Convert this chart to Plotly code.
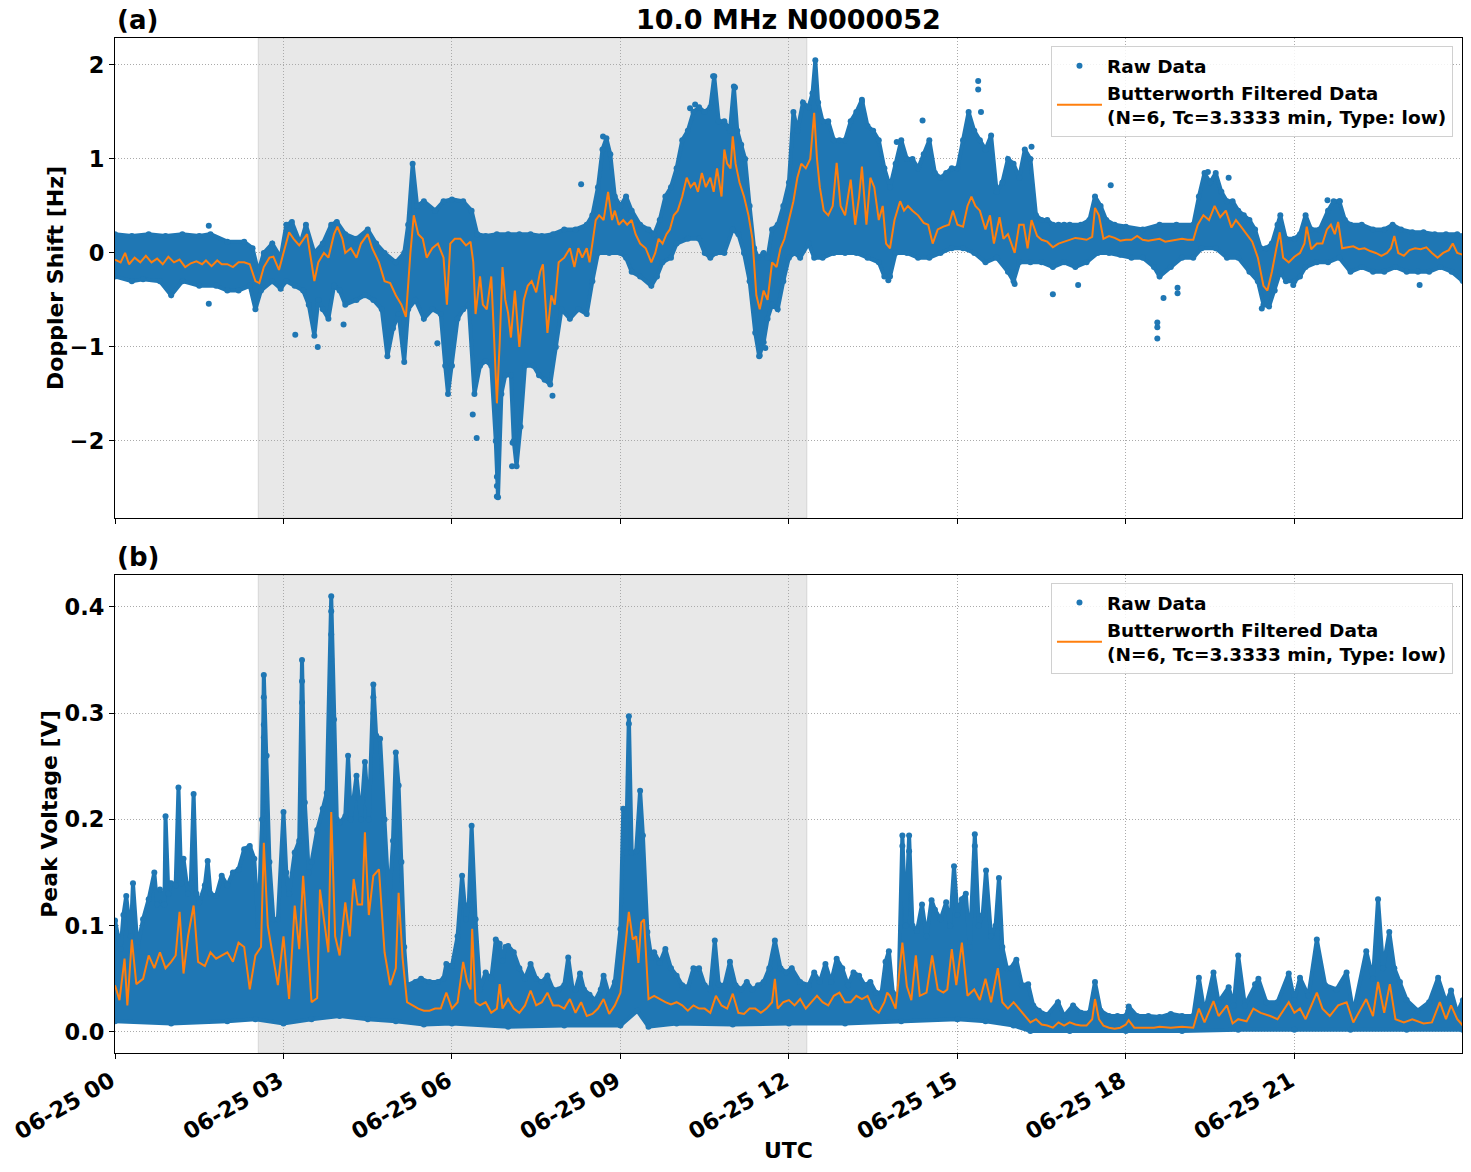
import pandas as pd
import plotly.graph_objects as go

DAY = pd.Timestamp("2024-06-25")
TITLE = "10.0 MHz N0000052"
SHADE_START_H, SHADE_END_H = 2.55, 12.32

# ---------------- Panel (a): Doppler shift [Hz]  (hour, value) ----------------
DOP_FILT = [
    (0.0, -0.07), (0.1, -0.1), (0.18, 0.0), (0.25, -0.12), (0.35, -0.05), (0.45, -0.1), (0.55, -0.03),
    (0.65, -0.1), (0.75, -0.06), (0.85, -0.12), (0.95, -0.04), (1.05, -0.1), (1.15, -0.07), (1.25, -0.15),
    (1.35, -0.11), (1.45, -0.09), (1.55, -0.12), (1.62, -0.08), (1.72, -0.14), (1.82, -0.08), (1.9, -0.12),
    (2.0, -0.12), (2.1, -0.15), (2.2, -0.1), (2.3, -0.1), (2.4, -0.12), (2.5, -0.3), (2.57, -0.32),
    (2.65, -0.15), (2.75, -0.05), (2.82, -0.04), (2.92, -0.18), (3.0, 0.0), (3.1, 0.22), (3.18, 0.15),
    (3.28, 0.08), (3.42, 0.2), (3.55, -0.3), (3.62, -0.1), (3.72, 0.0), (3.8, -0.05), (3.9, 0.2),
    (3.96, 0.28), (4.05, 0.15), (4.1, 0.0), (4.2, 0.05), (4.3, -0.05), (4.38, 0.1), (4.5, 0.2),
    (4.58, 0.05), (4.7, -0.1), (4.8, -0.3), (4.9, -0.32), (5.0, -0.45), (5.1, -0.55), (5.18, -0.68),
    (5.26, 0.0), (5.32, 0.4), (5.4, 0.2), (5.48, 0.15), (5.55, -0.05), (5.65, 0.05), (5.75, 0.1),
    (5.85, -0.05), (5.91, -0.55), (5.97, 0.1), (6.05, 0.15), (6.15, 0.15), (6.25, 0.08), (6.33, 0.12),
    (6.38, -0.1), (6.42, -0.65), (6.5, -0.25), (6.55, -0.55), (6.62, -0.6), (6.7, -0.25), (6.75, -0.9),
    (6.8, -1.6), (6.85, -0.95), (6.9, -0.15), (6.95, -0.5), (7.0, -0.64), (7.05, -0.9), (7.12, -0.4),
    (7.2, -1.0), (7.28, -0.5), (7.35, -0.35), (7.42, -0.3), (7.5, -0.42), (7.57, -0.2), (7.62, -0.12),
    (7.7, -0.85), (7.77, -0.45), (7.83, -0.55), (7.9, -0.1), (8.0, -0.05), (8.1, 0.05), (8.18, -0.15),
    (8.25, 0.05), (8.32, -0.05), (8.4, 0.05), (8.45, -0.1), (8.5, 0.1), (8.56, 0.35), (8.62, 0.4),
    (8.7, 0.35), (8.78, 0.65), (8.85, 0.35), (8.9, 0.45), (8.97, 0.3), (9.05, 0.35), (9.12, 0.3),
    (9.2, 0.35), (9.27, 0.2), (9.35, 0.1), (9.45, 0.05), (9.55, -0.1), (9.62, 0.0), (9.68, 0.15),
    (9.75, 0.1), (9.82, 0.2), (9.88, 0.25), (9.95, 0.4), (10.02, 0.45), (10.1, 0.6), (10.18, 0.8),
    (10.25, 0.7), (10.32, 0.75), (10.38, 0.65), (10.45, 0.85), (10.52, 0.7), (10.6, 0.8), (10.66, 0.65),
    (10.72, 0.9), (10.8, 0.6), (10.85, 1.1), (10.9, 0.95), (10.96, 0.9), (11.0, 1.24), (11.05, 0.95),
    (11.12, 0.75), (11.2, 0.6), (11.28, 0.4), (11.35, 0.15), (11.42, -0.45), (11.48, -0.6), (11.55, -0.4),
    (11.62, -0.5), (11.7, -0.1), (11.78, -0.15), (11.85, 0.05), (11.92, 0.15), (12.0, 0.35), (12.08, 0.55),
    (12.15, 0.8), (12.22, 0.95), (12.3, 0.9), (12.38, 1.0), (12.45, 1.49), (12.5, 1.0), (12.55, 0.7),
    (12.62, 0.45), (12.7, 0.4), (12.78, 0.5), (12.85, 0.96), (12.92, 0.5), (13.0, 0.4), (13.1, 0.78),
    (13.18, 0.3), (13.25, 0.6), (13.3, 0.92), (13.38, 0.3), (13.45, 0.8), (13.52, 0.7), (13.6, 0.35),
    (13.67, 0.5), (13.73, 0.1), (13.8, 0.05), (13.88, 0.35), (13.98, 0.55), (14.05, 0.45), (14.12, 0.5),
    (14.2, 0.45), (14.3, 0.4), (14.4, 0.32), (14.48, 0.3), (14.56, 0.1), (14.65, 0.25), (14.75, 0.28),
    (14.85, 0.3), (14.92, 0.45), (15.0, 0.3), (15.1, 0.28), (15.18, 0.5), (15.25, 0.6), (15.32, 0.5),
    (15.4, 0.45), (15.5, 0.25), (15.58, 0.4), (15.65, 0.1), (15.75, 0.38), (15.82, 0.15), (15.9, 0.2),
    (16.02, 0.0), (16.1, 0.3), (16.18, 0.3), (16.25, 0.05), (16.32, 0.35), (16.42, 0.18), (16.5, 0.14),
    (16.6, 0.12), (16.7, 0.06), (16.8, 0.1), (16.9, 0.12), (17.0, 0.14), (17.1, 0.16), (17.2, 0.15),
    (17.3, 0.14), (17.4, 0.17), (17.45, 0.48), (17.52, 0.4), (17.6, 0.15), (17.7, 0.18), (17.8, 0.16),
    (17.9, 0.13), (18.0, 0.14), (18.1, 0.14), (18.2, 0.18), (18.3, 0.14), (18.4, 0.13), (18.5, 0.14),
    (18.6, 0.15), (18.7, 0.12), (18.8, 0.13), (18.9, 0.14), (19.0, 0.15), (19.1, 0.14), (19.2, 0.14),
    (19.28, 0.3), (19.38, 0.4), (19.48, 0.35), (19.58, 0.5), (19.68, 0.38), (19.78, 0.45), (19.88, 0.27),
    (19.96, 0.35), (20.05, 0.28), (20.15, 0.2), (20.25, 0.12), (20.35, -0.05), (20.45, -0.35), (20.52, -0.4),
    (20.6, -0.2), (20.68, 0.05), (20.74, 0.22), (20.8, -0.05), (20.9, -0.1), (21.0, -0.04), (21.1, 0.0),
    (21.18, 0.1), (21.22, 0.28), (21.3, 0.04), (21.4, 0.1), (21.5, 0.1), (21.58, 0.25), (21.65, 0.3),
    (21.72, 0.2), (21.78, 0.33), (21.85, 0.05), (21.95, 0.06), (22.05, 0.07), (22.15, 0.04), (22.25, 0.05),
    (22.35, 0.02), (22.45, 0.0), (22.55, -0.03), (22.65, 0.0), (22.72, 0.05), (22.78, 0.18), (22.85, 0.0),
    (22.95, -0.03), (23.05, 0.03), (23.15, 0.05), (23.25, 0.04), (23.35, 0.06), (23.45, 0.0), (23.55, -0.05),
    (23.65, 0.0), (23.75, 0.03), (23.82, 0.1), (23.9, 0.0), (24.0, -0.02),
]

DOP_RAW_HIGH = [
    (0.0, 0.2), (0.3, 0.18), (0.6, 0.2), (0.9, 0.18), (1.2, 0.2), (1.5, 0.18), (1.7, 0.2), (2.0, 0.12),
    (2.3, 0.12), (2.45, 0.05), (2.55, -0.2), (2.65, 0.0), (2.8, 0.1), (2.95, -0.05), (3.05, 0.3),
    (3.15, 0.33), (3.3, 0.1), (3.4, 0.3), (3.55, 0.0), (3.7, 0.1), (3.85, 0.3), (3.95, 0.33), (4.1, 0.2),
    (4.3, 0.15), (4.5, 0.25), (4.65, 0.1), (4.8, 0.0), (5.0, -0.1), (5.15, 0.0), (5.22, 0.3), (5.3, 0.95),
    (5.38, 0.5), (5.5, 0.55), (5.7, 0.45), (5.85, 0.55), (6.0, 0.57), (6.2, 0.55), (6.35, 0.45),
    (6.45, 0.2), (6.6, 0.18), (6.8, 0.2), (7.0, 0.2), (7.2, 0.2), (7.4, 0.2), (7.6, 0.18), (7.8, 0.2),
    (8.0, 0.25), (8.2, 0.25), (8.4, 0.3), (8.5, 0.4), (8.6, 0.7), (8.68, 1.1), (8.75, 1.22), (8.82, 1.05),
    (8.9, 0.6), (9.0, 0.5), (9.1, 0.6), (9.2, 0.45), (9.35, 0.3), (9.5, 0.25), (9.6, 0.2), (9.7, 0.35),
    (9.8, 0.6), (9.9, 0.7), (10.0, 0.9), (10.1, 1.2), (10.2, 1.3), (10.3, 1.5), (10.4, 1.55), (10.5, 1.5),
    (10.6, 1.55), (10.67, 1.88), (10.75, 1.4), (10.85, 1.4), (10.95, 1.3), (11.02, 1.77), (11.08, 1.3),
    (11.15, 1.15), (11.22, 1.0), (11.3, 0.5), (11.38, 0.05), (11.45, -0.05), (11.55, 0.0), (11.62, -0.05),
    (11.7, 0.25), (11.8, 0.3), (11.9, 0.5), (12.0, 0.75), (12.08, 1.5), (12.15, 1.3), (12.25, 1.6),
    (12.35, 1.55), (12.42, 1.7), (12.47, 2.05), (12.52, 1.6), (12.6, 1.4), (12.7, 1.4), (12.8, 1.2),
    (12.9, 1.2), (13.0, 1.2), (13.1, 1.4), (13.2, 1.5), (13.3, 1.63), (13.4, 1.35), (13.5, 1.3),
    (13.6, 1.2), (13.7, 0.9), (13.8, 0.7), (13.9, 0.95), (14.0, 1.2), (14.1, 1.0), (14.2, 1.0),
    (14.3, 0.9), (14.4, 1.05), (14.5, 1.2), (14.6, 0.85), (14.7, 0.8), (14.8, 0.85), (14.9, 0.9),
    (15.0, 0.9), (15.1, 1.2), (15.2, 1.5), (15.3, 1.3), (15.4, 1.2), (15.5, 1.1), (15.6, 1.25),
    (15.7, 0.65), (15.8, 0.75), (15.9, 1.0), (16.0, 0.95), (16.1, 0.8), (16.2, 1.1), (16.3, 1.0),
    (16.4, 0.4), (16.5, 0.35), (16.6, 0.35), (16.7, 0.3), (16.8, 0.3), (16.9, 0.3), (17.0, 0.3),
    (17.2, 0.3), (17.35, 0.35), (17.45, 0.6), (17.55, 0.5), (17.65, 0.35), (17.8, 0.3), (18.0, 0.28),
    (18.3, 0.25), (18.6, 0.3), (18.9, 0.3), (19.2, 0.3), (19.3, 0.6), (19.4, 0.85), (19.5, 0.75),
    (19.6, 0.85), (19.7, 0.65), (19.8, 0.55), (19.9, 0.55), (20.0, 0.45), (20.1, 0.4), (20.2, 0.35),
    (20.3, 0.25), (20.4, 0.05), (20.5, 0.05), (20.6, 0.1), (20.7, 0.3), (20.75, 0.4), (20.85, 0.15),
    (21.0, 0.15), (21.1, 0.2), (21.2, 0.4), (21.3, 0.25), (21.45, 0.25), (21.6, 0.45), (21.7, 0.55),
    (21.8, 0.55), (21.9, 0.35), (22.0, 0.3), (22.2, 0.3), (22.4, 0.25), (22.6, 0.25), (22.75, 0.3),
    (22.9, 0.25), (23.1, 0.22), (23.3, 0.22), (23.5, 0.2), (23.7, 0.2), (23.9, 0.2), (24.0, 0.18),
]

DOP_RAW_LOW = [
    (0.0, -0.25), (0.3, -0.3), (0.5, -0.28), (0.8, -0.3), (1.0, -0.45), (1.2, -0.3), (1.5, -0.35),
    (1.8, -0.35), (2.0, -0.4), (2.2, -0.4), (2.4, -0.35), (2.5, -0.6), (2.6, -0.4), (2.8, -0.3),
    (2.95, -0.38), (3.05, -0.3), (3.2, -0.35), (3.35, -0.4), (3.45, -0.55), (3.55, -0.88), (3.62, -0.5),
    (3.7, -0.6), (3.8, -0.7), (3.9, -0.35), (4.0, -0.4), (4.1, -0.55), (4.3, -0.5), (4.45, -0.45),
    (4.6, -0.5), (4.75, -0.6), (4.85, -1.1), (4.95, -0.8), (5.05, -0.65), (5.15, -1.16), (5.22, -0.6),
    (5.35, -0.5), (5.5, -0.7), (5.65, -0.6), (5.8, -0.65), (5.88, -1.2), (5.93, -1.5), (6.0, -1.2),
    (6.1, -0.7), (6.2, -0.6), (6.3, -0.55), (6.4, -1.5), (6.5, -1.2), (6.6, -1.15), (6.7, -1.2),
    (6.78, -2.0), (6.82, -2.6), (6.88, -1.5), (6.95, -1.3), (7.05, -1.3), (7.1, -2.0), (7.15, -2.27),
    (7.22, -1.85), (7.3, -1.2), (7.45, -1.2), (7.55, -1.3), (7.65, -1.35), (7.75, -1.4), (7.85, -1.0),
    (7.95, -0.6), (8.1, -0.7), (8.25, -0.6), (8.4, -0.65), (8.5, -0.3), (8.6, 0.0), (8.8, 0.0),
    (9.0, 0.0), (9.1, -0.05), (9.2, -0.2), (9.35, -0.25), (9.55, -0.35), (9.65, -0.25), (9.75, -0.1),
    (9.9, -0.05), (10.0, 0.1), (10.2, 0.15), (10.4, 0.15), (10.5, 0.0), (10.6, -0.05), (10.7, 0.0),
    (10.85, 0.0), (11.0, 0.25), (11.1, 0.2), (11.2, 0.0), (11.3, -0.3), (11.4, -0.85), (11.47, -1.1),
    (11.55, -0.95), (11.62, -0.7), (11.7, -0.55), (11.8, -0.6), (11.9, -0.3), (12.0, -0.05), (12.1, 0.0),
    (12.2, -0.05), (12.35, 0.1), (12.45, -0.05), (12.6, -0.05), (12.8, 0.0), (13.0, 0.0), (13.2, 0.0),
    (13.4, -0.05), (13.6, -0.1), (13.7, -0.25), (13.8, -0.25), (13.9, 0.0), (14.1, 0.0), (14.3, -0.05),
    (14.5, -0.05), (14.7, 0.0), (14.9, 0.05), (15.1, 0.05), (15.3, 0.0), (15.5, -0.1), (15.7, -0.05),
    (15.9, -0.2), (16.0, -0.3), (16.1, -0.1), (16.3, -0.1), (16.5, -0.1), (16.7, -0.15), (16.9, -0.1),
    (17.1, -0.15), (17.3, -0.1), (17.5, 0.0), (17.7, 0.0), (17.9, -0.02), (18.1, -0.05), (18.3, -0.05),
    (18.5, -0.15), (18.6, -0.25), (18.8, -0.15), (19.0, -0.05), (19.2, -0.05), (19.35, 0.05), (19.6, 0.05),
    (19.8, -0.05), (20.0, -0.05), (20.2, -0.2), (20.35, -0.3), (20.45, -0.55), (20.55, -0.57), (20.65, -0.4),
    (20.75, -0.2), (20.85, -0.3), (21.0, -0.3), (21.1, -0.25), (21.2, -0.15), (21.4, -0.1), (21.6, -0.1),
    (21.8, -0.05), (22.0, -0.2), (22.2, -0.15), (22.4, -0.2), (22.6, -0.2), (22.8, -0.15), (23.0, -0.2),
    (23.2, -0.2), (23.4, -0.2), (23.6, -0.15), (23.8, -0.2), (24.0, -0.3),
]

DOP_RAW_ISOLATED = [
    (1.67, 0.29), (1.67, -0.54), (3.21, -0.87), (3.61, -1.0), (4.07, -0.76), (5.74, -0.96),
    (6.37, -1.72), (6.44, -1.97), (6.8, -2.38), (6.8, -2.48), (6.8, -2.59), (7.07, -2.27), (7.08, -2.02),
    (7.79, -1.52), (8.3, 0.73), (8.69, 1.24), (10.24, 1.54), (10.33, 1.58), (10.65, 1.88), (11.04, 1.76),
    (11.48, -1.09), (11.58, -1.01), (13.3, 1.61), (13.77, -0.29), (13.92, 1.18), (14.38, 1.41),
    (15.37, 1.83), (15.37, 1.74), (15.42, 1.5), (16.02, -0.33), (16.32, 1.13), (16.7, -0.44),
    (17.15, -0.34), (17.73, 0.72), (18.56, -0.74), (18.56, -0.79), (18.56, -0.91), (18.67, -0.48),
    (18.92, -0.43), (18.92, -0.37), (19.46, 0.86), (19.83, 0.8), (20.42, -0.59), (20.98, -0.34),
    (21.59, 0.56), (21.81, 0.55), (23.23, -0.34),
]

# ---------------- Panel (b): Peak voltage [V]  (hour, value) ----------------
VOLT_FILT = [
    (0.0, 0.044), (0.08, 0.03), (0.17, 0.069), (0.22, 0.025), (0.3, 0.087), (0.38, 0.045), (0.5, 0.05),
    (0.6, 0.072), (0.7, 0.06), (0.8, 0.075), (0.9, 0.06), (1.0, 0.066), (1.08, 0.072), (1.15, 0.113),
    (1.22, 0.055), (1.3, 0.09), (1.4, 0.119), (1.48, 0.066), (1.6, 0.062), (1.7, 0.075), (1.8, 0.069),
    (1.9, 0.072), (2.0, 0.075), (2.1, 0.066), (2.2, 0.084), (2.3, 0.08), (2.4, 0.04), (2.5, 0.072),
    (2.6, 0.08), (2.65, 0.178), (2.72, 0.1), (2.8, 0.075), (2.9, 0.044), (3.0, 0.09), (3.1, 0.031),
    (3.2, 0.119), (3.28, 0.078), (3.35, 0.147), (3.42, 0.09), (3.5, 0.028), (3.6, 0.032), (3.65, 0.134),
    (3.72, 0.106), (3.8, 0.075), (3.85, 0.207), (3.92, 0.09), (4.0, 0.072), (4.1, 0.122), (4.18, 0.09),
    (4.25, 0.144), (4.32, 0.12), (4.4, 0.12), (4.45, 0.188), (4.52, 0.11), (4.6, 0.147), (4.7, 0.153),
    (4.8, 0.075), (4.9, 0.044), (5.0, 0.06), (5.05, 0.131), (5.12, 0.07), (5.2, 0.028), (5.3, 0.025),
    (5.4, 0.022), (5.5, 0.02), (5.6, 0.02), (5.7, 0.022), (5.8, 0.022), (5.9, 0.037), (6.0, 0.022),
    (6.1, 0.028), (6.2, 0.066), (6.27, 0.047), (6.33, 0.04), (6.36, 0.097), (6.42, 0.028), (6.5, 0.025),
    (6.6, 0.028), (6.7, 0.018), (6.8, 0.022), (6.85, 0.045), (6.9, 0.022), (7.0, 0.031), (7.1, 0.022),
    (7.2, 0.018), (7.3, 0.025), (7.4, 0.039), (7.5, 0.025), (7.6, 0.028), (7.7, 0.037), (7.8, 0.025),
    (7.9, 0.025), (8.0, 0.022), (8.1, 0.031), (8.2, 0.018), (8.3, 0.028), (8.4, 0.015), (8.5, 0.017),
    (8.6, 0.022), (8.7, 0.031), (8.8, 0.017), (8.9, 0.025), (9.0, 0.037), (9.08, 0.075), (9.15, 0.113),
    (9.22, 0.087), (9.28, 0.09), (9.32, 0.065), (9.37, 0.103), (9.42, 0.106), (9.5, 0.031), (9.6, 0.034),
    (9.7, 0.031), (9.8, 0.028), (9.9, 0.026), (10.0, 0.028), (10.1, 0.025), (10.2, 0.02), (10.3, 0.025),
    (10.4, 0.022), (10.5, 0.022), (10.6, 0.018), (10.7, 0.034), (10.8, 0.025), (10.9, 0.022), (11.0, 0.036),
    (11.1, 0.018), (11.2, 0.017), (11.3, 0.022), (11.4, 0.022), (11.5, 0.018), (11.6, 0.022), (11.7, 0.028),
    (11.75, 0.05), (11.8, 0.022), (11.9, 0.028), (12.0, 0.03), (12.1, 0.025), (12.2, 0.031), (12.3, 0.022),
    (12.4, 0.028), (12.5, 0.034), (12.6, 0.028), (12.7, 0.025), (12.8, 0.034), (12.9, 0.037), (13.0, 0.028),
    (13.1, 0.028), (13.2, 0.034), (13.3, 0.031), (13.4, 0.034), (13.5, 0.022), (13.6, 0.018), (13.7, 0.028),
    (13.75, 0.037), (13.8, 0.034), (13.9, 0.022), (14.02, 0.084), (14.1, 0.043), (14.18, 0.03), (14.26, 0.072),
    (14.33, 0.034), (14.45, 0.037), (14.55, 0.072), (14.65, 0.04), (14.75, 0.037), (14.82, 0.04), (14.9, 0.078),
    (14.98, 0.044), (15.08, 0.084), (15.18, 0.034), (15.3, 0.04), (15.4, 0.03), (15.5, 0.05), (15.6, 0.028),
    (15.72, 0.06), (15.8, 0.028), (15.9, 0.022), (16.0, 0.028), (16.1, 0.022), (16.2, 0.015), (16.3, 0.009),
    (16.4, 0.012), (16.5, 0.007), (16.6, 0.006), (16.7, 0.004), (16.8, 0.009), (16.9, 0.006), (17.0, 0.009),
    (17.1, 0.007), (17.2, 0.006), (17.3, 0.006), (17.4, 0.012), (17.45, 0.031), (17.52, 0.012), (17.6, 0.006),
    (17.7, 0.004), (17.8, 0.003), (17.9, 0.004), (18.0, 0.007), (18.05, 0.011), (18.15, 0.004), (18.3, 0.004),
    (18.5, 0.004), (18.6, 0.005), (18.8, 0.004), (19.0, 0.005), (19.2, 0.004), (19.3, 0.022), (19.4, 0.009),
    (19.56, 0.029), (19.65, 0.015), (19.8, 0.025), (19.9, 0.008), (20.0, 0.012), (20.15, 0.01), (20.27, 0.022),
    (20.4, 0.018), (20.57, 0.015), (20.7, 0.012), (20.9, 0.028), (21.0, 0.018), (21.1, 0.022), (21.2, 0.012),
    (21.4, 0.037), (21.5, 0.022), (21.63, 0.015), (21.78, 0.025), (21.93, 0.028), (22.05, 0.009), (22.28, 0.031),
    (22.4, 0.015), (22.49, 0.047), (22.6, 0.018), (22.7, 0.045), (22.8, 0.012), (22.95, 0.009), (23.1, 0.012),
    (23.3, 0.008), (23.45, 0.009), (23.59, 0.028), (23.7, 0.012), (23.79, 0.025), (23.9, 0.012), (24.0, 0.006),
]

VOLT_RAW_HIGH = [
    (0.0, 0.105), (0.05, 0.09), (0.1, 0.078), (0.15, 0.11), (0.2, 0.128), (0.28, 0.09), (0.32, 0.14),
    (0.4, 0.08), (0.5, 0.106), (0.6, 0.125), (0.7, 0.15), (0.75, 0.12), (0.8, 0.134), (0.88, 0.12),
    (0.9, 0.203), (0.95, 0.13), (1.0, 0.14), (1.08, 0.138), (1.13, 0.23), (1.18, 0.14), (1.22, 0.163),
    (1.3, 0.13), (1.35, 0.14), (1.4, 0.224), (1.45, 0.13), (1.5, 0.122), (1.6, 0.138), (1.65, 0.161),
    (1.7, 0.13), (1.8, 0.128), (1.9, 0.147), (2.0, 0.138), (2.1, 0.15), (2.2, 0.153), (2.3, 0.172),
    (2.4, 0.175), (2.48, 0.163), (2.55, 0.1), (2.62, 0.2), (2.65, 0.336), (2.7, 0.26), (2.75, 0.16),
    (2.82, 0.106), (2.9, 0.106), (3.0, 0.207), (3.05, 0.15), (3.1, 0.13), (3.2, 0.169), (3.28, 0.18),
    (3.33, 0.35), (3.38, 0.216), (3.45, 0.15), (3.5, 0.16), (3.6, 0.19), (3.7, 0.21), (3.77, 0.225),
    (3.85, 0.41), (3.9, 0.294), (3.95, 0.2), (4.0, 0.197), (4.1, 0.203), (4.15, 0.26), (4.2, 0.2),
    (4.3, 0.241), (4.38, 0.2), (4.45, 0.254), (4.52, 0.2), (4.6, 0.327), (4.65, 0.279), (4.72, 0.276),
    (4.8, 0.2), (4.88, 0.12), (4.95, 0.18), (5.0, 0.263), (5.05, 0.232), (5.1, 0.16), (5.15, 0.08),
    (5.2, 0.044), (5.35, 0.047), (5.45, 0.05), (5.6, 0.047), (5.75, 0.047), (5.85, 0.05), (5.9, 0.064),
    (6.0, 0.062), (6.1, 0.09), (6.18, 0.147), (6.25, 0.106), (6.3, 0.12), (6.35, 0.194), (6.42, 0.106),
    (6.5, 0.04), (6.6, 0.056), (6.7, 0.05), (6.78, 0.087), (6.85, 0.083), (6.9, 0.067), (6.95, 0.08),
    (7.0, 0.081), (7.1, 0.075), (7.2, 0.06), (7.3, 0.05), (7.4, 0.064), (7.5, 0.05), (7.6, 0.047),
    (7.7, 0.053), (7.8, 0.04), (7.9, 0.04), (8.0, 0.044), (8.07, 0.07), (8.15, 0.04), (8.2, 0.04),
    (8.28, 0.055), (8.35, 0.04), (8.45, 0.035), (8.55, 0.03), (8.65, 0.04), (8.7, 0.053), (8.8, 0.034),
    (8.9, 0.047), (9.0, 0.097), (9.05, 0.21), (9.1, 0.169), (9.15, 0.297), (9.2, 0.169), (9.28, 0.17),
    (9.35, 0.227), (9.4, 0.185), (9.48, 0.094), (9.55, 0.07), (9.6, 0.075), (9.7, 0.065), (9.8, 0.078),
    (9.9, 0.06), (10.0, 0.053), (10.1, 0.044), (10.2, 0.042), (10.3, 0.06), (10.4, 0.06), (10.5, 0.044),
    (10.6, 0.04), (10.68, 0.086), (10.75, 0.045), (10.85, 0.044), (10.95, 0.066), (11.05, 0.044),
    (11.15, 0.04), (11.25, 0.047), (11.35, 0.04), (11.45, 0.044), (11.55, 0.047), (11.65, 0.06),
    (11.75, 0.086), (11.85, 0.06), (11.95, 0.056), (12.05, 0.06), (12.2, 0.047), (12.35, 0.044),
    (12.45, 0.056), (12.55, 0.047), (12.65, 0.064), (12.75, 0.047), (12.85, 0.069), (12.95, 0.06),
    (13.05, 0.044), (13.15, 0.056), (13.25, 0.053), (13.35, 0.044), (13.45, 0.047), (13.55, 0.037),
    (13.65, 0.037), (13.72, 0.066), (13.78, 0.076), (13.85, 0.037), (13.95, 0.034), (14.02, 0.185),
    (14.08, 0.1), (14.14, 0.185), (14.2, 0.1), (14.28, 0.095), (14.37, 0.12), (14.45, 0.09), (14.54, 0.124),
    (14.6, 0.115), (14.7, 0.106), (14.8, 0.122), (14.87, 0.1), (14.94, 0.156), (15.0, 0.11), (15.08, 0.125),
    (15.15, 0.13), (15.22, 0.08), (15.31, 0.186), (15.38, 0.1), (15.45, 0.11), (15.51, 0.152), (15.6, 0.09),
    (15.68, 0.1), (15.74, 0.145), (15.8, 0.08), (15.88, 0.06), (15.95, 0.06), (16.05, 0.068), (16.15, 0.044),
    (16.26, 0.045), (16.35, 0.025), (16.45, 0.02), (16.6, 0.016), (16.79, 0.028), (16.9, 0.015),
    (17.06, 0.025), (17.2, 0.018), (17.35, 0.018), (17.45, 0.047), (17.55, 0.02), (17.7, 0.015),
    (17.85, 0.015), (18.0, 0.015), (18.05, 0.024), (18.2, 0.015), (18.4, 0.015), (18.6, 0.014),
    (18.8, 0.017), (19.0, 0.015), (19.2, 0.015), (19.3, 0.051), (19.4, 0.018), (19.56, 0.056),
    (19.65, 0.028), (19.83, 0.042), (19.92, 0.025), (20.0, 0.072), (20.12, 0.025), (20.3, 0.045),
    (20.36, 0.05), (20.5, 0.028), (20.7, 0.028), (20.9, 0.055), (21.0, 0.03), (21.1, 0.051), (21.25, 0.034),
    (21.4, 0.087), (21.55, 0.044), (21.75, 0.04), (21.93, 0.056), (22.05, 0.018), (22.28, 0.076),
    (22.4, 0.05), (22.49, 0.125), (22.58, 0.06), (22.69, 0.094), (22.78, 0.06), (22.88, 0.047),
    (23.0, 0.03), (23.2, 0.02), (23.4, 0.028), (23.56, 0.051), (23.7, 0.028), (23.79, 0.039),
    (23.9, 0.018), (24.0, 0.03),
]

VOLT_RAW_LOW = [
    (0.0, 0.01), (1.0, 0.008), (2.0, 0.01), (2.5, 0.012), (3.0, 0.008), (3.5, 0.012), (4.0, 0.015),
    (4.5, 0.012), (5.0, 0.01), (5.5, 0.007), (6.0, 0.008), (7.0, 0.005), (8.0, 0.006), (9.0, 0.006),
    (9.3, 0.02), (9.5, 0.005), (10.0, 0.008), (11.0, 0.007), (12.0, 0.008), (13.0, 0.008), (14.0, 0.01),
    (15.0, 0.012), (15.5, 0.01), (16.0, 0.006), (16.3, 0.001), (17.0, 0.001), (18.0, 0.001), (19.0, 0.001),
    (20.0, 0.002), (21.0, 0.002), (22.0, 0.002), (23.0, 0.002), (24.0, 0.002),
]

VOLT_RAW_ISOLATED = [
    (2.65, 0.315), (2.65, 0.289), (2.65, 0.277), (3.33, 0.33), (3.33, 0.31), (3.85, 0.396),
    (3.85, 0.374), (3.85, 0.351), (3.85, 0.329), (4.6, 0.315), (4.6, 0.3), (9.15, 0.29), (9.15, 0.24),
    (14.02, 0.175), (14.14, 0.17), (15.31, 0.175), (15.31, 0.16),
]

BLUE = "#1f77b4"
ORANGE = "#ff7f0e"
FONT = "DejaVu Sans"
LEGEND_LINE = "Butterworth Filtered Data<br>(N=6, Tc=3.3333 min, Type: low)"


def to_time(hours):
    return [DAY + pd.Timedelta(hours=h) for h in hours]


def unzip(pairs):
    return [p[0] for p in pairs], [p[1] for p in pairs]


fig = go.Figure()


def add_panel(xa, ya, legend, filt, high, low, isolated):
    ht, hv = unzip(high)
    lt, lv = unzip(low)
    # raw-data band
    fig.add_trace(go.Scatter(
        x=to_time(ht + lt[::-1]), y=hv + lv[::-1], mode="lines", fill="toself",
        fillcolor=BLUE, line=dict(color=BLUE, width=4), xaxis=xa, yaxis=ya,
        showlegend=False, hoverinfo="skip"))
    fig.add_trace(go.Scatter(
        x=to_time(ht + lt), y=hv + lv, mode="markers", marker=dict(color=BLUE, size=6),
        xaxis=xa, yaxis=ya, showlegend=False, hoverinfo="skip"))
    it, iv = unzip(isolated)
    fig.add_trace(go.Scatter(
        x=to_time(it), y=iv, mode="markers", marker=dict(color=BLUE, size=6),
        name="Raw Data", xaxis=xa, yaxis=ya, legend=legend))
    ft, fv = unzip(filt)
    fig.add_trace(go.Scatter(
        x=to_time(ft), y=fv, mode="lines", line=dict(color=ORANGE, width=2),
        name=LEGEND_LINE, xaxis=xa, yaxis=ya, legend=legend))


add_panel("x", "y", "legend", DOP_FILT, DOP_RAW_HIGH, DOP_RAW_LOW, DOP_RAW_ISOLATED)
add_panel("x2", "y2", "legend2", VOLT_FILT, VOLT_RAW_HIGH, VOLT_RAW_LOW, VOLT_RAW_ISOLATED)

for xr, yr in (("x", "y domain"), ("x2", "y2 domain")):
    fig.add_shape(type="rect", xref=xr, yref=yr,
                  x0=DAY + pd.Timedelta(hours=SHADE_START_H), x1=DAY + pd.Timedelta(hours=SHADE_END_H),
                  y0=0, y1=1, fillcolor="rgba(128,128,128,0.18)",
                  line=dict(color="rgba(128,128,128,0.22)", width=1), layer="below")

TICK_FONT = dict(family=FONT, size=22.5, color="black", weight="bold")
GRID = dict(showgrid=True, gridcolor="#aaaaaa", griddash="1px,2px", gridwidth=1)
x_range = [DAY, DAY + pd.Timedelta(hours=23.985)]
common_x = dict(
    type="date", range=x_range, tick0=DAY, dtick=3 * 3600 * 1000, tickformat="%m-%d %H",
    showline=True, linecolor="black", linewidth=1.3, mirror=True,
    ticks="outside", ticklen=5, tickwidth=1.3, tickcolor="black", zeroline=False,
    tickfont=TICK_FONT, automargin=False, **GRID,
)
common_y = dict(
    showline=True, linecolor="black", linewidth=1.3, mirror=True,
    ticks="outside", ticklen=5, tickwidth=1.3, tickcolor="black", zeroline=False,
    tickfont=TICK_FONT, automargin=False, **GRID,
)
YTITLE_FONT = dict(family=FONT, size=22, color="black", weight="bold")

legend_style = dict(
    xanchor="right", yanchor="top", bgcolor="rgba(255,255,255,0.85)",
    bordercolor="#d0d0d0", borderwidth=1,
    font=dict(family=FONT, size=18.5, color="black", weight="bold"),
    tracegroupgap=0, itemwidth=45,
)

PLOT_H = 1172 - 38 - 119
fig.update_layout(
    width=1471, height=1172, plot_bgcolor="white", paper_bgcolor="white",
    margin=dict(l=115, r=9, t=38, b=119, autoexpand=False),
    xaxis=dict(domain=[0, 1], anchor="y", showticklabels=False, **common_x),
    xaxis2=dict(domain=[0, 1], anchor="y2", matches="x", tickangle=-30, ticklabelshift=-4,
                **common_x),
    yaxis=dict(domain=[0.5271, 1], anchor="x", range=[-2.82, 2.287], dtick=1, tick0=0,
               title=dict(text="Doppler Shift [Hz]", font=YTITLE_FONT, standoff=0), **common_y),
    yaxis2=dict(domain=[0, 0.4709], anchor="x2", range=[-0.0198, 0.430], dtick=0.1, tick0=0,
                tickformat=".1f", title=dict(text="Peak Voltage [V]", font=YTITLE_FONT, standoff=0),
                **common_y),
    legend=dict(x=0.9933, y=0.992, **legend_style),
    legend2=dict(x=0.9933, y=0.463, **legend_style),
    showlegend=True,
    annotations=[
        dict(text="<b>" + TITLE + "</b>", xref="paper", yref="paper", x=0.5, y=1, xanchor="center",
             yanchor="bottom", yshift=1, showarrow=False, font=dict(family=FONT, size=27, color="black")),
        dict(text="<b>(a)</b>", xref="paper", yref="paper", x=0, y=1, xanchor="left",
             yanchor="bottom", yshift=1, showarrow=False, font=dict(family=FONT, size=26, color="black")),
        dict(text="<b>(b)</b>", xref="paper", yref="paper", x=0, y=0.4709, xanchor="left",
             yanchor="bottom", yshift=1, showarrow=False, font=dict(family=FONT, size=26, color="black")),
        dict(text="<b>UTC</b>", xref="paper", yref="paper", x=0.5, y=-(1150 - 1053) / PLOT_H,
             xanchor="center", yanchor="middle", showarrow=False,
             font=dict(family=FONT, size=22, color="black")),
    ],
)

fig.write_html("out.html")
